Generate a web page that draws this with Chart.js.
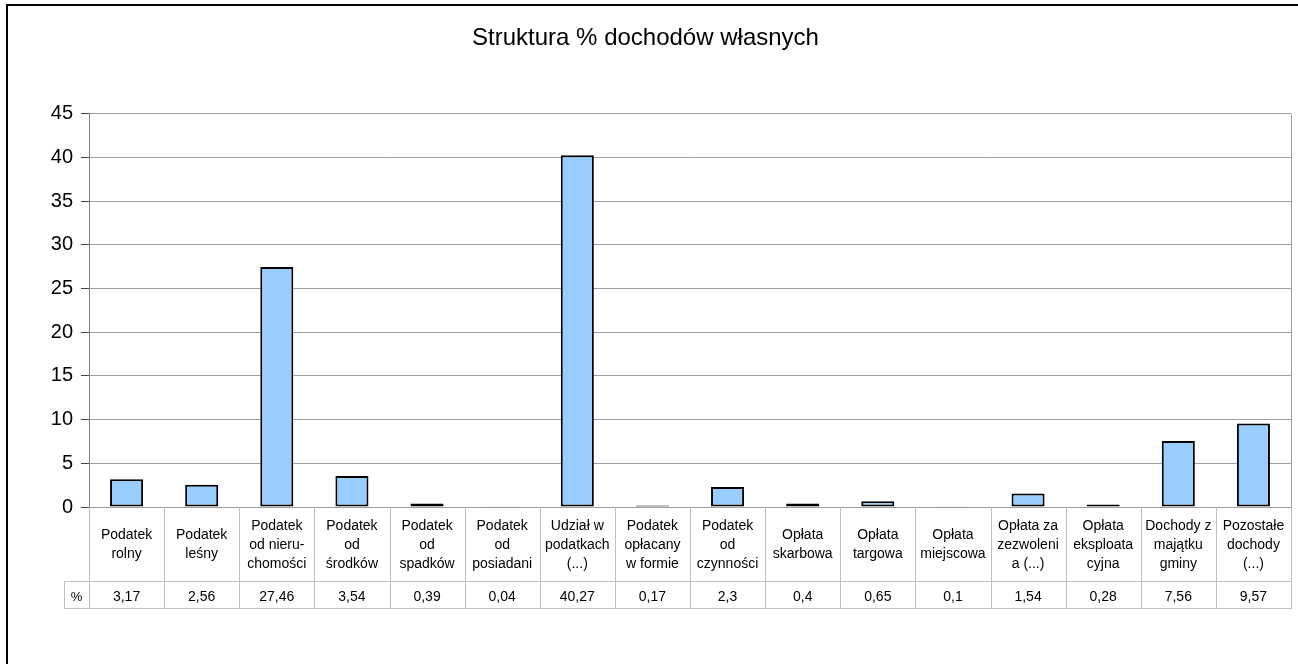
<!DOCTYPE html>
<html>
<head>
<meta charset="utf-8">
<script src="https://cdn.jsdelivr.net/npm/chart.js@4"></script>
<style>
  body { margin: 0; background: #fff; }
  canvas { display: block; }
</style>
</head>
<body>
<canvas id="grafico" width="1298" height="664"></canvas>
<script>
const tytul = 'Struktura % dochodów własnych';

const kategorie = [
    ['Podatek', 'rolny'],
    ['Podatek', 'leśny'],
    ['Podatek', 'od nieru-', 'chomości'],
    ['Podatek', 'od', 'środków'],
    ['Podatek', 'od', 'spadków'],
    ['Podatek', 'od', 'posiadani'],
    ['Udział w', 'podatkach', '(...)'],
    ['Podatek', 'opłacany', 'w formie'],
    ['Podatek', 'od', 'czynności'],
    ['Opłata', 'skarbowa'],
    ['Opłata', 'targowa'],
    ['Opłata', 'miejscowa'],
    ['Opłata za', 'zezwoleni', 'a (...)'],
    ['Opłata', 'eksploata', 'cyjna'],
    ['Dochody z', 'majątku', 'gminy'],
    ['Pozostałe', 'dochody', '(...)']
];

const wartosci = [3.17, 2.56, 27.46, 3.54, 0.39, 0.04, 40.27, 0.17, 2.3, 0.4, 0.65, 0.1, 1.54, 0.28, 7.56, 9.57];

const nazwaSerii = '%';
const osY = { min: 0, max: 45, krok: 5 };

const czcionka = '"Liberation Sans", Arial, sans-serif';

// tabela danych pod osią X, rysowana z pozycji skali
const tabelaDanych = {
    id: 'tabelaDanych',
    afterDraw(chart) {
        const ctx = chart.ctx;
        const x = chart.scales.x;
        const obszar = chart.chartArea;
        const gora = obszar.bottom;
        const srodek = gora + 74;
        const dol = gora + 101;
        const lewoProcent = obszar.left - 25;
        const szer = (obszar.right - obszar.left) / kategorie.length;

        ctx.save();
        // prawa krawędź obszaru wykresu
        ctx.strokeStyle = '#a0a0a0';
        ctx.lineWidth = 1;
        ctx.beginPath();
        ctx.moveTo(obszar.right + 0.5, obszar.top);
        ctx.lineTo(obszar.right + 0.5, gora);
        ctx.stroke();

        ctx.strokeStyle = '#c0c0c0';
        ctx.beginPath();
        ctx.moveTo(lewoProcent, srodek + 0.5);
        ctx.lineTo(obszar.right + 1, srodek + 0.5);
        ctx.moveTo(lewoProcent, dol + 0.5);
        ctx.lineTo(obszar.right + 1, dol + 0.5);
        ctx.moveTo(lewoProcent + 0.5, srodek);
        ctx.lineTo(lewoProcent + 0.5, dol);
        for (let i = 0; i <= kategorie.length; i++) {
            const px = Math.round(obszar.left + i * szer) + 0.5;
            ctx.moveTo(px, gora);
            ctx.lineTo(px, dol);
        }
        ctx.stroke();

        ctx.fillStyle = '#000';
        ctx.font = '14px ' + czcionka;
        ctx.textAlign = 'center';
        ctx.textBaseline = 'middle';
        const wysLinii = 19;
        kategorie.forEach((linie, i) => {
            const cx = x.getPixelForValue(i);
            const start = (gora + srodek) / 2 - (linie.length - 1) * wysLinii / 2;
            linie.forEach((t, j) => ctx.fillText(t, cx, start + j * wysLinii + 1));
            ctx.fillText(String(wartosci[i]).replace('.', ','), cx, (srodek + dol) / 2 + 3);
        });
        ctx.font = '13px ' + czcionka;
        ctx.fillText(nazwaSerii, (lewoProcent + obszar.left) / 2, (srodek + dol) / 2 + 3);
        ctx.restore();
    },
    beforeDraw(chart) {
        const ctx = chart.ctx;
        ctx.save();
        ctx.strokeStyle = '#000';
        ctx.lineWidth = 2;
        ctx.strokeRect(7, 5, 1400, 1000);
        ctx.restore();
    }
};

const config = {
    type: 'bar',
    data: {
        labels: kategorie.map(k => k.join(' ')),
        datasets: [{
            label: nazwaSerii,
            data: wartosci,
            backgroundColor: '#99ccff',
            borderColor: '#000000',
            borderWidth: 2,
            borderSkipped: false,
            barPercentage: 0.44,
            categoryPercentage: 1
        }]
    },
    options: {
        responsive: false,
        animation: false,
        layout: { padding: { left: 0, right: 7, top: 0, bottom: 157 } },
        plugins: {
            legend: { display: false },
            tooltip: { enabled: false },
            title: {
                display: true,
                text: tytul,
                color: '#000',
                font: { family: czcionka, size: 24, weight: 'normal' },
                padding: { top: 24, bottom: 61 }
            }
        },
        scales: {
            x: {
                ticks: { display: false },
                grid: { display: false, drawTicks: false },
                border: { display: true, color: '#a0a0a0', width: 1 }
            },
            y: {
                min: osY.min,
                max: osY.max,
                ticks: {
                    stepSize: osY.krok,
                    color: '#000',
                    padding: 8,
                    font: { family: czcionka, size: 20 }
                },
                grid: { color: '#a0a0a0', tickColor: '#444', tickLength: 8 },
                border: { color: '#808080', width: 1 },
                afterFit(skala) { skala.width = 89; }
            }
        }
    },
    plugins: [tabelaDanych]
};

const canvasElement = document.getElementById('grafico');
if (canvasElement) {
    new Chart(canvasElement.getContext('2d'), config);
}
</script>
</body>
</html>
